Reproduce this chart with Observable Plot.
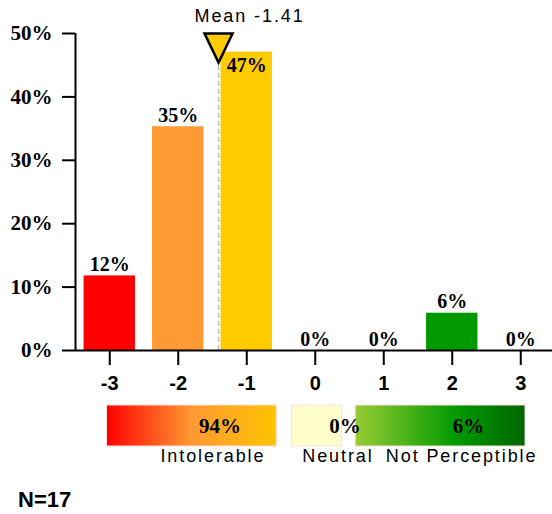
<!DOCTYPE html>
<html>
<head>
<meta charset="utf-8">
<script src="https://cdn.jsdelivr.net/npm/d3@7"></script>
<script src="https://cdn.jsdelivr.net/npm/@observablehq/plot@0.6"></script>
<style>
  body { margin: 0; background: white; font-family: "Liberation Sans", Arial, sans-serif; }
  #chart svg { display: block; }
  g[aria-description="spaced"] text { letter-spacing: 1.9px; }
  #count { padding-left: 18px; margin-top: 14px; font: bold 22px/22px "Liberation Sans", Arial, sans-serif; }
</style>
</head>
<body>
<div id="chart"></div>
<script>
// Rating scale and number of responses per rating
const scores = [-3, -2, -1, 0, 1, 2, 3];
const counts = [2, 6, 8, 0, 0, 1, 0];
const barColors = ["#ff0000", "#ff9933", "#ffcc00", "#ffffcc", "#99cc33", "#009900", "#006600"];
const yTicks = [0, 10, 20, 30, 40, 50];

// Summary groups shown beneath the axis
const groupNames = ["Intolerable", "Neutral", "Not Perceptible"];
const groupScores = [[-3, -2, -1], [0], [1, 2, 3]];
const groupFills = ["url(#grad-intolerable)", "#ffffcc", "url(#grad-perceptible)"];

// Layout: horizontal extent of each summary box, in rating units
const groupSpans = [[-3.04, -0.56], [-0.34, 0.39], [0.59, 3.07]];
const barHalfWidth = 0.375;

const N = d3.sum(counts);
const mean = d3.sum(scores, (s, i) => s * counts[i]) / N;
const bars = scores.map((s, i) => ({score: s, pct: counts[i] / N * 100, color: barColors[i]}));
const insideScore = Math.round(mean); // bar under the mean marker gets its label inside

const xOpts = {domain: [-3.5, 3.5]};
const sans = "Liberation Sans, Arial, sans-serif";
const serif = "Liberation Serif, Times New Roman, serif";

// Downward-pointing marker whose top edge sits on the anchor point
const meanMarker = {
  draw(ctx) { ctx.moveTo(-14, 0); ctx.lineTo(14, 0); ctx.lineTo(0, 29); ctx.closePath(); }
};

const chart = Plot.plot({
  width: 552,
  height: 398,
  marginLeft: 75,
  marginRight: -2.5,
  marginTop: 33,
  marginBottom: 48,
  style: {fontFamily: sans, color: "black", background: "white"},
  x: xOpts,
  y: {domain: [0, 50]},
  color: {type: "identity"},
  marks: [
    Plot.rectY(bars, {x1: d => d.score - barHalfWidth, x2: d => d.score + barHalfWidth, y: "pct", fill: "color"}),
    Plot.ruleX([mean], {x: d => d, y1: 0, y2: 50, stroke: "#bbbbbb", strokeWidth: 1.5, strokeDasharray: "5,3"}),
    Plot.ruleY([0], {stroke: "black", strokeWidth: 2}),
    Plot.ruleX([xOpts.domain[0]], {y1: 0, y2: 50, stroke: "black", strokeWidth: 2}),
    Plot.axisY({ticks: yTicks, tickFormat: d => d + "%", tickSize: 13, tickPadding: 10, strokeWidth: 2,
      fontSize: 21, fontWeight: "bold", fontFamily: serif, label: null}),
    Plot.axisX({ticks: scores, tickFormat: d => String(d), tickSize: 15, tickPadding: 10, strokeWidth: 2,
      fontSize: 20, fontWeight: "bold", fontFamily: sans, label: null}),
    Plot.text(bars.filter(d => d.score !== insideScore), {x: "score", y: "pct", text: d => Math.round(d.pct) + "%",
      dy: -5, lineAnchor: "bottom", fontSize: 20, fontWeight: "bold", fontFamily: serif}),
    Plot.text(bars.filter(d => d.score === insideScore), {x: "score", y: "pct", text: d => Math.round(d.pct) + "%",
      dy: 6, lineAnchor: "top", fontSize: 20, fontWeight: "bold", fontFamily: serif}),
    Plot.dot([mean], {x: d => d, y: d => 50, symbol: meanMarker, fill: "#ffcc00", stroke: "black", strokeWidth: 2.5}),
    Plot.text([mean], {x: d => d, y: d => 50, text: d => "Mean " + d.toFixed(2), textAnchor: "start",
      dx: -24, dy: -17, fontSize: 18, fontFamily: sans, ariaDescription: "spaced"})
  ]
});

const groups = groupNames.map((name, i) => ({
  name,
  pct: d3.sum(groupScores[i], s => counts[scores.indexOf(s)]) / N * 100,
  x1: groupSpans[i][0],
  x2: groupSpans[i][1],
  fill: groupFills[i]
}));

const legend = Plot.plot({
  width: 552,
  height: 77,
  marginLeft: 75,
  marginRight: -2.5,
  marginTop: 7,
  marginBottom: 29,
  style: {fontFamily: sans, color: "black", background: "white"},
  x: {...xOpts, axis: null},
  color: {type: "identity"},
  marks: [
    Plot.rect(groups, {x1: "x1", x2: "x2", fill: "fill", stroke: "#ffdddd", strokeWidth: 1}),
    Plot.text(groups, {x: d => (d.x1 + d.x2) / 2, text: d => Math.round(d.pct) + "%", frameAnchor: "middle",
      dx: 28, fontSize: 21, fontWeight: "bold", fontFamily: serif}),
    Plot.text(groups, {x: d => (d.x1 + d.x2) / 2, text: "name", frameAnchor: "bottom", dx: 21, dy: 15,
      fontSize: 18, fontFamily: sans, ariaDescription: "spaced"})
  ]
});

// Gradient fills for the two summary boxes
const defs = d3.select(legend).insert("defs", ":first-child");
const gradients = [
  ["grad-intolerable", [[0, "#ff0000"], [0.5, "#ff9933"], [1, "#ffc400"]]],
  ["grad-perceptible", [[0, "#99cc33"], [0.6, "#009900"], [1, "#006600"]]]
];
for (const [id, stops] of gradients) {
  const g = defs.append("linearGradient").attr("id", id).attr("x1", 0).attr("x2", 1).attr("y1", 0).attr("y2", 0);
  for (const [offset, color] of stops) g.append("stop").attr("offset", offset).attr("stop-color", color);
}

const root = document.getElementById("chart");
root.append(chart, legend);
const count = document.createElement("div");
count.id = "count";
count.textContent = "N=" + N;
root.append(count);
</script>
</body>
</html>
